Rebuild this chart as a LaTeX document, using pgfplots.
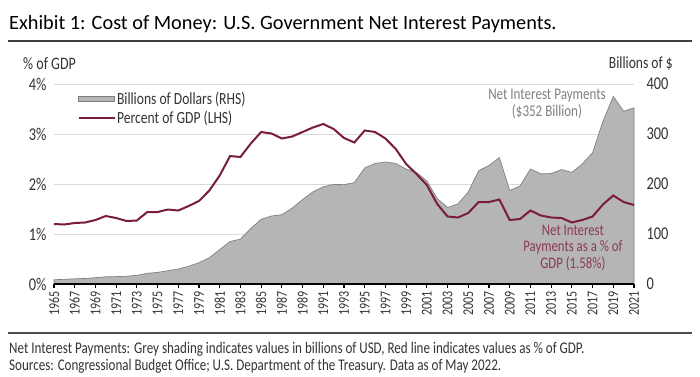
\documentclass[border=0pt]{standalone}
\usepackage{fontspec}
\setmainfont{Carlito}[FakeStretch=0.8]
\newfontfamily\titlefont{Carlito}
\usepackage{pgfplots}
\pgfplotsset{compat=1.18}
\usepackage{pgfplotstable}
\definecolor{maroon}{HTML}{7A1C3C}
\definecolor{notered}{HTML}{8A3A58}
\definecolor{areafill}{HTML}{B5B5B5}
\definecolor{areaedge}{HTML}{808080}
\definecolor{gridc}{HTML}{DADADA}
\definecolor{txt}{HTML}{333333}

\pgfplotstableread{
year bil pct
1965 8.6 1.20
1966 9.4 1.19
1967 10.3 1.22
1968 11.1 1.23
1969 12.7 1.28
1970 14.4 1.36
1971 14.8 1.32
1972 15.5 1.26
1973 17.3 1.27
1974 21.4 1.44
1975 23.2 1.44
1976 26.7 1.49
1977 29.9 1.47
1978 35.5 1.56
1979 42.6 1.66
1980 52.5 1.87
1981 68.8 2.17
1982 85.0 2.56
1983 89.8 2.54
1984 111.1 2.81
1985 129.5 3.04
1986 136.0 3.01
1987 138.6 2.91
1988 151.8 2.95
1989 168.9 3.04
1990 184.3 3.13
1991 194.4 3.20
1992 199.3 3.10
1993 198.7 2.92
1994 202.9 2.83
1995 232.1 3.07
1996 241.1 3.04
1997 244.0 2.91
1998 241.1 2.70
1999 229.8 2.40
2000 222.9 2.20
2001 206.2 1.98
2002 170.9 1.60
2003 153.1 1.35
2004 160.2 1.33
2005 184.0 1.42
2006 226.6 1.64
2007 237.1 1.64
2008 252.8 1.69
2009 186.9 1.28
2010 196.2 1.30
2011 230.0 1.47
2012 220.4 1.37
2013 220.9 1.33
2014 228.9 1.32
2015 223.2 1.23
2016 240.0 1.28
2017 262.6 1.35
2018 325.0 1.59
2019 375.2 1.77
2020 345.5 1.64
2021 352.3 1.58
}\datatable

\begin{document}
\begin{tikzpicture}[x=1pt,y=1pt]
\useasboundingbox (0,0) rectangle (700,376);
% title
\node[anchor=base west, inner sep=0pt, font=\titlefont\fontsize{20.3}{24}\selectfont] at (9,347) {Exhibit 1: Cost of Money: U.S. Government Net Interest Payments.};
\draw[line width=1.3pt, color=black!75] (8,335) -- (692,335);
% axis titles
\node[anchor=west, inner sep=0pt, text=txt, font=\fontsize{17.5}{20}\selectfont] at (23,312) {\% of GDP};
\node[anchor=east, inner sep=0pt, text=txt, font=\fontsize{17}{20}\selectfont] at (673,312) {Billions of \$};

% right axis with area (billions)
\begin{axis}[
  at={(54pt,92pt)}, anchor=south west,
  scale only axis, width=580pt, height=200pt,
  xmin=1965, xmax=2021, ymin=0, ymax=400,
  axis x line=none,
  axis y line*=right,
  y axis line style={draw=none},
  ytick={0,100,200,300,400},
  major tick length=0pt,
  ymajorgrids, grid style={gridc, line width=0.8pt},
  yticklabel style={text=txt, font=\fontsize{18}{20}\selectfont, xshift=9pt},
  /pgf/number format/assume math mode=true,
  clip=false,
]
\addplot[fill=areafill, draw=areaedge, line width=0.7pt] table[x=year, y=bil] {\datatable} \closedcycle;
\node[align=center, text=areaedge, font=\fontsize{16.3}{17}\selectfont, inner sep=0pt] at (axis cs:2012.6,361) {Net Interest Payments\\(\$352 Billion)};
\node[align=center, text=notered, font=\fontsize{16}{16.5}\selectfont, inner sep=0pt] at (axis cs:2015.1,73) {Net Interest\\Payments as a \% of\\GDP (1.58\%)};
\end{axis}

% left axis with red line (percent)
\begin{axis}[
  at={(54pt,92pt)}, anchor=south west,
  scale only axis, width=580pt, height=200pt,
  xmin=1965, xmax=2021, ymin=0, ymax=4,
  axis x line*=bottom,
  axis y line*=left,
  y axis line style={draw=none},
  x axis line style={line width=2.4pt, black, -},
  xtick={1965,1967,...,2021},
  xticklabel style={rotate=90, anchor=east, text=txt, font=\fontsize{15}{17}\selectfont},
  x tick style={black, line width=1.2pt},
  xtick align=outside,
  major tick length=4pt,
  ytick={0,1,2,3,4},
  y tick style={draw=none},
  yticklabel={\pgfmathprintnumber{\tick}\%},
  yticklabel style={text=txt, font=\fontsize{18}{20}\selectfont, xshift=-4pt},
  /pgf/number format/assume math mode=true,
  xticklabel={\pgfmathprintnumber[1000 sep={}]{\tick}},
  legend style={draw=none, fill=none, at={(rel axis cs:0.035,0.98)}, anchor=north west,
    font=\fontsize{17}{19}\selectfont, text=txt, row sep=2pt,
    nodes={inner sep=1.5pt}},
  legend cell align=left,
  clip=false,
]
\addlegendimage{legend image code/.code={\filldraw[fill=areafill, draw=areaedge, line width=0.6pt] (0pt,-2.5pt) rectangle (36pt,2.5pt);}}
\addlegendentry{Billions of Dollars (RHS)}
\addplot[color=maroon, line width=2pt, legend image code/.code={\draw[maroon, line width=2pt] (0pt,0pt) -- (36pt,0pt);}] table[x=year, y=pct] {\datatable};
\addlegendentry{Percent of GDP (LHS)}
\end{axis}

% footnote
\draw[line width=1.1pt, color=black!70] (8,43) -- (692,43);
\node[anchor=base west, inner sep=0pt, text=txt, font=\fontsize{16.3}{18}\selectfont] at (9,23) {Net Interest Payments: Grey shading indicates values in billions of USD, Red line indicates values as \% of GDP.};
\node[anchor=base west, inner sep=0pt, text=txt, font=\fontsize{16.3}{18}\selectfont] at (9,6) {Sources: Congressional Budget Office; U.S. Department of the Treasury. Data as of May 2022.};
\end{tikzpicture}
\end{document}
